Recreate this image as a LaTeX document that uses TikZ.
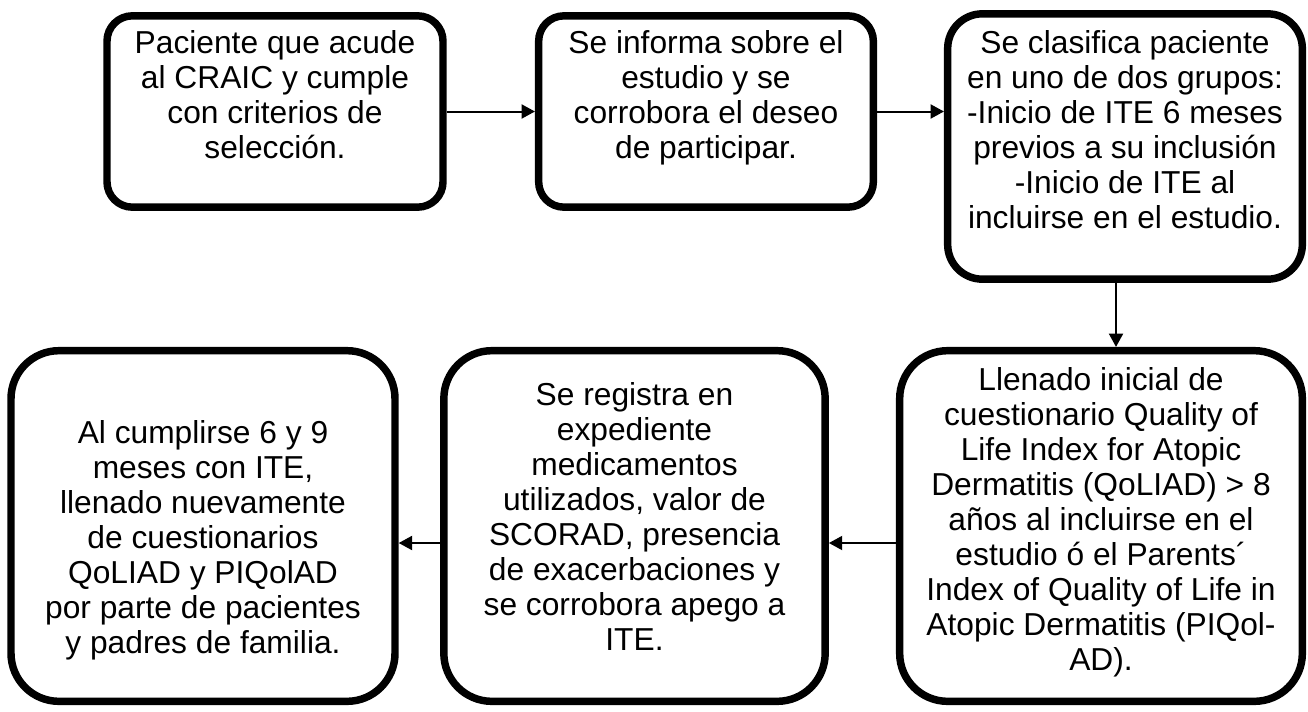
\documentclass[tikz,border=0pt]{standalone}
\usepackage{fontspec}
\setmainfont{Liberation Sans}
\usepackage{tikz}
\usetikzlibrary{arrows.meta}

\tikzset{
  stepbox/.style={draw, line width=5.6pt, align=center, inner sep=0pt,
    font=\fontsize{23.8}{26.25}\selectfont},
  arr/.style={-{Triangle[length=10pt,width=10.5pt]}, line width=1.5pt}
}

\begin{document}
\begin{tikzpicture}[x=0.75pt, y=-0.75pt]
            \useasboundingbox (0,0) rectangle (1308,711);

            % Top row
            \node[stepbox, rounded corners=19pt, minimum width=252pt, minimum height=143.5pt] (b1) at (275,111.5)
                {Paciente que acude\\al CRAIC y cumple\\con criterios de\\selecci\'on.\rule[-26pt]{0pt}{1pt}};
            \node[stepbox, rounded corners=19pt, minimum width=251pt, minimum height=143.5pt] (b2) at (706,111.5)
                {Se informa sobre el\\estudio y se\\corrobora el deseo\\de participar.\rule[-26pt]{0pt}{1pt}};
            \node[stepbox, rounded corners=26pt, minimum width=266pt, minimum height=199pt] (b3) at (1125,146.5)
                {Se clasifica paciente\\en uno de dos grupos:\\-Inicio de ITE 6 meses\\previos a su inclusi\'on\\-Inicio de ITE al\\incluirse en el estudio.\rule[-25pt]{0pt}{1pt}};

            % Bottom row
            \node[stepbox, rounded corners=36pt, minimum width=302pt, minimum height=263pt] (b4) at (1101,526)
                {Llenado inicial de\\cuestionario Quality of\\Life Index for Atopic\\Dermatitis (QoLIAD) > 8\\a\~nos al incluirse en el\\estudio \'o el Parents´\\Index of Quality of Life in\\Atopic Dermatitis (PIQol-\\AD).\rule[-10pt]{0pt}{1pt}};
            \node[stepbox, rounded corners=36pt, minimum width=286pt, minimum height=263pt] (b5) at (634.5,526)
                {Se registra en\\expediente\\medicamentos\\utilizados, valor de\\SCORAD, presencia\\de exacerbaciones y\\se corrobora apego a\\ITE.\rule[-15pt]{0pt}{1pt}};
            \node[stepbox, rounded corners=36pt, minimum width=288pt, minimum height=263pt] (b6) at (203,526)
                {\rule{0pt}{39pt}Al cumplirse 6 y 9\\meses con ITE,\\llenado nuevamente\\de cuestionarios\\QoLIAD y PIQolAD\\por parte de pacientes\\y padres de familia.};

            % Arrows
            \draw[arr] (b1) -- (b2);
            \draw[arr] (b2.east) -- (b2.east -| b3.west);
            \draw[arr] ([xshift=-6.75pt]b3.south) -- ([xshift=11.25pt]b4.north);
            \draw[arr] ([yshift=-12.75pt]b4.west) -- ([yshift=-12.75pt]b5.east);
            \draw[arr] ([yshift=-12.75pt]b5.west) -- ([yshift=-12.75pt]b6.east);
        \end{tikzpicture}
\end{document}
